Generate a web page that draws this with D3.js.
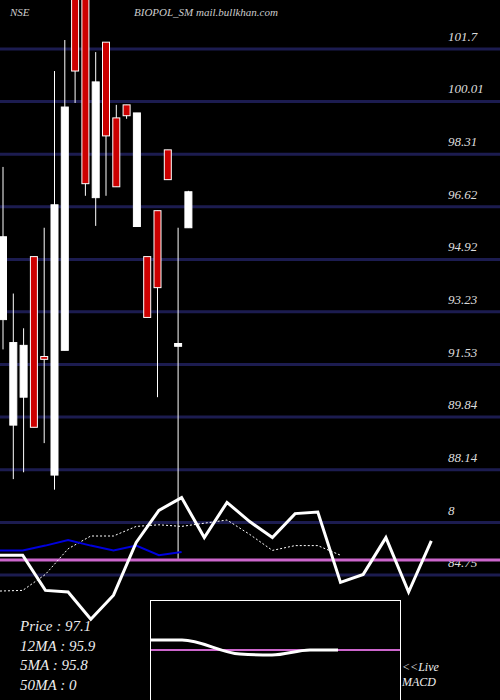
<!DOCTYPE html>
<html><head><meta charset="utf-8">
<script src="https://cdn.jsdelivr.net/npm/d3@7"></script>
<style>body{margin:0;background:#000}svg{display:block}</style>
</head><body>
<script>
const opens  = [92.98,89.58,90.48,95.01,91.79,87.97,91.99,103.6,103.6,96.91,101.92,99.48,99.9,95.98,95.01,96.49,98.45,92.12,95.94];
const closes = [95.65,92.24,92.15,89.51,91.70,96.68,99.83,100.99,97.36,100.64,98.90,97.26,99.55,99.64,93.05,94.01,97.49,92.21,97.10];
const highs  = [97.9,93.82,92.7,95.01,95.94,100.99,101.99,103.6,103.6,101.6,101.92,99.9,99.9,99.64,95.01,96.49,98.45,95.94,97.13];
const lows   = [92.02,87.84,88.06,89.51,89.0,87.5,91.99,99.96,96.97,96.0,96.97,97.26,99.45,95.98,93.05,90.48,97.49,85.27,95.94];
const priceTicks = [101.7,100.01,98.31,96.62,94.92,93.23,91.53,89.84,88.14,86.44,84.75];
const oscMain = [53,53,31,30,13,28,61,81,89,64,86,74,64,79,80,36,41,64,30,62];
const oscDot  = [30.6,31,41,57,65,65,71,72,71,73,75,66,56,59,59,53];
const oscBlue = [56,56,59,62.5,59,56,59,53,55];
const macd = [0.5,0.5,-0.2,-0.25,0,0];
const infoLines = ["Price   : 97.1","12MA : 95.9","5MA : 95.8","50MA : 0"];

const W=500,H=700;
const svg=d3.select("body").append("svg").attr("width",W).attr("height",H).style("background","#000");
const font="Liberation Serif";

const y=d3.scaleLinear().domain([101.7,84.75]).range([49,575]);
const x=i=>3+i*10.3;

svg.selectAll(".grid").data(priceTicks).enter().append("line")
  .attr("x1",0).attr("x2",W).attr("y1",d=>y(d)).attr("y2",d=>y(d))
  .attr("stroke","#1c1c50").attr("stroke-width",3);

svg.selectAll(".tl").data(priceTicks).enter().append("text")
  .attr("x",448).attr("y",d=>y(d)-8).text((d,i)=>i==9?"8":d)
  .attr("fill","#ddd").attr("font-family",font).attr("font-style","italic").attr("font-size",13);

const c=svg.selectAll(".c").data(opens).enter().append("g");
c.append("line").attr("x1",(d,i)=>x(i)).attr("x2",(d,i)=>x(i))
  .attr("y1",(d,i)=>y(highs[i])).attr("y2",(d,i)=>y(lows[i])).attr("stroke","#fff");
c.append("rect").attr("x",(d,i)=>x(i)-3.5).attr("width",7)
  .attr("y",(d,i)=>y(Math.max(d,closes[i])))
  .attr("height",(d,i)=>Math.max(2,Math.abs(y(d)-y(closes[i]))))
  .attr("fill",(d,i)=>closes[i]>=d?"#fff":"#cc0000").attr("stroke","#fff").attr("stroke-width",1);

const o=d3.scaleLinear().domain([0,100]).range([640,480]);
const ox=i=>i*22.7;
svg.append("line").attr("x1",0).attr("x2",W).attr("y1",o(50)).attr("y2",o(50)).attr("stroke","#cc66cc").attr("stroke-width",3);
svg.append("path").attr("d",d3.line().x((d,i)=>ox(i)).y(d=>o(d))(oscDot)).attr("fill","none").attr("stroke","#fff").attr("stroke-dasharray","2,2");
svg.append("path").attr("d",d3.line().x((d,i)=>ox(i)).y(d=>o(d))(oscBlue)).attr("fill","none").attr("stroke","#0000dd").attr("stroke-width",2);
svg.append("path").attr("d",d3.line().x((d,i)=>ox(i)).y(d=>o(d))(oscMain)).attr("fill","none").attr("stroke","#fff").attr("stroke-width",3);

svg.append("rect").attr("x",150.5).attr("y",600.5).attr("width",250).attr("height",110).attr("fill","#000").attr("stroke","#fff");
const m=d3.scaleLinear().domain([-1,1]).range([670,630]);
svg.append("line").attr("x1",151).attr("x2",400).attr("y1",m(0)).attr("y2",m(0)).attr("stroke","#cc66cc").attr("stroke-width",2);
svg.append("path").attr("d",d3.line().x((d,i)=>151+[0,31,89,121,159,187][i]).y(d=>m(d)).curve(d3.curveMonotoneX)(macd)).attr("fill","none").attr("stroke","#fff").attr("stroke-width",3);

const t=(s,xx,yy,sz,col)=>svg.append("text").attr("x",xx).attr("y",yy).text(s).attr("fill",col||"#ddd").attr("font-family",font).attr("font-style","italic").attr("font-size",sz);
t("NSE",10,16,11,"#ccc");
t("BIOPOL_SM mail.bullkhan.com",134,16,11,"#ccc");
infoLines.forEach((s,i)=>t(s,20,631+i*19.5,15,"#eee"));
t("<<Live",402,671,12,"#eee");
t("MACD",402,686,12,"#eee");
</script>
</body></html>
